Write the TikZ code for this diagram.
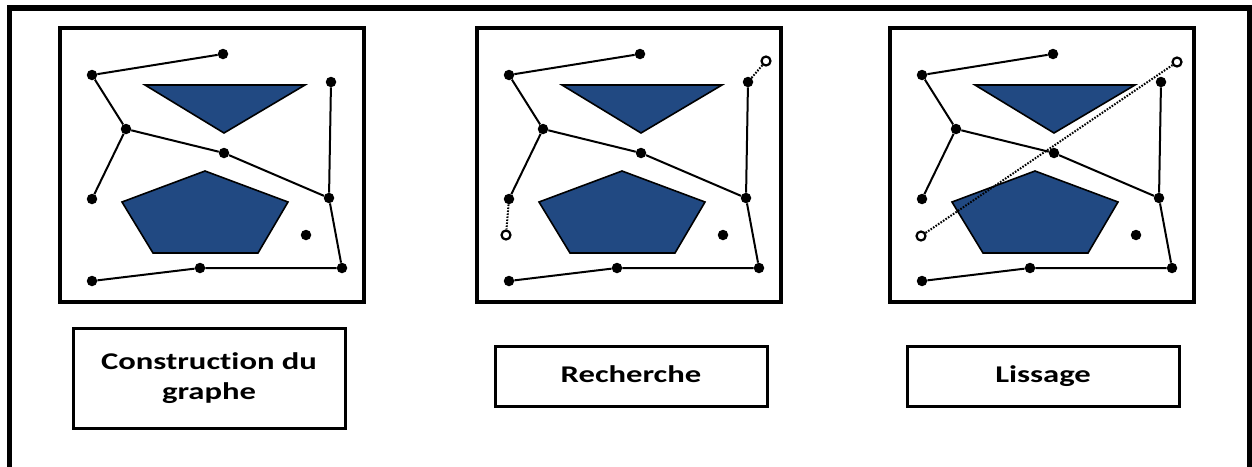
\documentclass[tikz,border=0pt]{standalone}
\usepackage{fontspec}
\setmainfont[Ligatures={NoCommon},FakeStretch=1.36]{Carlito}
\definecolor{obstblue}{RGB}{33,73,130}
\tikzset{
  dot/.style={circle,fill=black,inner sep=0pt,minimum size=10.5pt},
  goal/.style={circle,draw=black,fill=white,line width=2.2pt,inner sep=0pt,minimum size=9pt},
  edge/.style={line width=2pt},
  obst/.style={draw=black,line width=1.6pt,fill=obstblue,line join=miter},
  pathdots/.style={line width=2pt,dash pattern=on 1.6pt off 1.4pt},
  labelbox/.style={draw,line width=3pt,minimum width=272pt,align=center,
    font=\fontsize{24}{30}\selectfont\bfseries}
}
\begin{document}
\begin{tikzpicture}[x=1pt,y=-1pt]
\useasboundingbox (0,0) rectangle (1252,466);
\clip (0,0) rectangle (1252,466);
\fill[white] (0,0) rectangle (1252,466);
\draw[line width=5.5pt] (9.5,8) rectangle (1250,500);

% three panels, same graph
\foreach \p/\dx in {1/0,2/417,3/830}{
\begin{scope}[xshift=\dx pt]
\draw[line width=3.2pt] (60,28) rectangle (364,302);
\draw[obst] (145,85) -- (305,85) -- (224,133) -- cycle;
\draw[obst] (205,171) -- (288,202) -- (258,253) -- (153,253) -- (122,202) -- cycle;

\node[dot] (a\p) at (223,54) {};
\node[dot] (b\p) at (92,75) {};
\node[dot] (c\p) at (126,129) {};
\node[dot] (d\p) at (224,153) {};
\node[dot] (e\p) at (92,199) {};
\node[dot] (f\p) at (331,82) {};
\node[dot] (g\p) at (329,198) {};
\node[dot] (h\p) at (306,235) {};
\node[dot] (i\p) at (342,268) {};
\node[dot] (j\p) at (200,268) {};
\node[dot] (k\p) at (92,281) {};

\draw[edge] (a\p) -- (b\p) -- (c\p) -- (e\p);
\draw[edge] (c\p) -- (d\p) -- (g\p) -- (f\p);
\draw[edge] (g\p) -- (i\p) -- (j\p) -- (k\p);
\end{scope}
}

% Recherche: start and goal joined to the graph
\node[goal] (s2) at (506,235) {};
\node[goal] (t2) at (766,61) {};
\draw[pathdots] (e2) -- (s2);
\draw[pathdots] (f2) -- (t2);

% Lissage: direct path
\node[goal] (s3) at (921,236) {};
\node[goal] (t3) at (1177,62) {};
\draw[pathdots] (s3) -- (t3);

\node[labelbox,minimum height=100pt] (build) at (209,378) {\strut Construction du\\graphe\strut};
\node[labelbox,minimum height=60pt] (search) at (631,376) {\strut Recherche};
\node[labelbox,minimum height=60pt] (smooth) at (1043,376) {\strut Lissage};
\end{tikzpicture}
\end{document}
